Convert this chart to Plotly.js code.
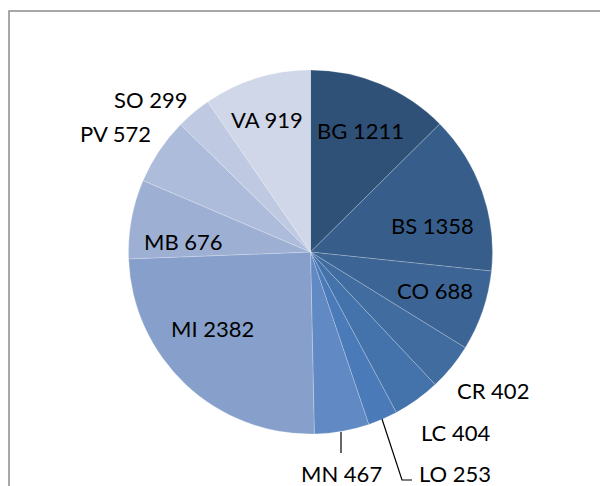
<!DOCTYPE html>
<html>
<head>
<meta charset="utf-8">
<script src="https://cdn.plot.ly/plotly-3.0.1.min.js"></script>
<style>html,body{margin:0;padding:0;background:#fff;}#chart{width:600px;height:486px;}</style>
</head>
<body>
<div id="chart"></div>
<script>
const labels = ["BG","BS","CO","CR","LC","LO","MN","MI","MB","PV","SO","VA"];
const values = [1211,1358,688,402,404,253,467,2382,676,572,299,919];
const colors = ["#2F5178","#375E8A","#3C6495","#416CA0","#4472AA","#4A7AB8","#6189C4","#87A0CB","#9DB0D4","#AEBCDB","#BFCAE2","#CFD7E8"];
// label anchor positions (pixels) for each slice label
const labelPos = [[360,131],[432,225],[435,290],[493,390],[455,432],[455,473],[342,473],[212,328],[183,241],[115,134],[150,100],[267,119]];

const W = 600, H = 486;
const px = x => x / W, py = y => 1 - y / H;
const cx = 310.5, cy = 252, R = 182;

const annotations = labels.map((l, i) => ({
  text: l + " " + values[i],
  x: px(labelPos[i][0]), y: py(labelPos[i][1]),
  xref: "paper", yref: "paper", xanchor: "center", yanchor: "middle",
  showarrow: false,
  font: {family: "Lato, 'Open Sans', sans-serif", size: 22, color: "#000"}
}));

const shapes = [
  {type: "rect", xref: "paper", yref: "paper", x0: px(9), y0: py(520), x1: px(640), y1: py(11),
   line: {color: "#8C8C8C", width: 1.5}, fillcolor: "rgba(0,0,0,0)"},
  {type: "path", xref: "paper", yref: "paper",
   path: `M ${px(341)} ${py(432)} L ${px(341)} ${py(453)}`, line: {color: "#000", width: 1.2}},
  {type: "path", xref: "paper", yref: "paper",
   path: `M ${px(382)} ${py(419)} L ${px(402)} ${py(480)} L ${px(412)} ${py(480)}`, line: {color: "#000", width: 1.2}}
];

const data = [{
  type: "pie",
  labels: labels,
  values: values,
  sort: false,
  direction: "clockwise",
  rotation: 0,
  textinfo: "none",
  hoverinfo: "label+value",
  marker: {colors: colors, line: {color: "rgba(255,255,255,0.3)", width: 0.7}},
  domain: {x: [px(cx - R), px(cx + R)], y: [py(cy + R), py(cy - R)]},
  showlegend: false
}];

const layout = {
  width: W, height: H,
  margin: {l: 0, r: 0, t: 0, b: 0},
  paper_bgcolor: "#fff",
  showlegend: false,
  annotations: annotations,
  shapes: shapes
};

Plotly.newPlot("chart", data, layout, {displayModeBar: false, staticPlot: true});
</script>
</body>
</html>
